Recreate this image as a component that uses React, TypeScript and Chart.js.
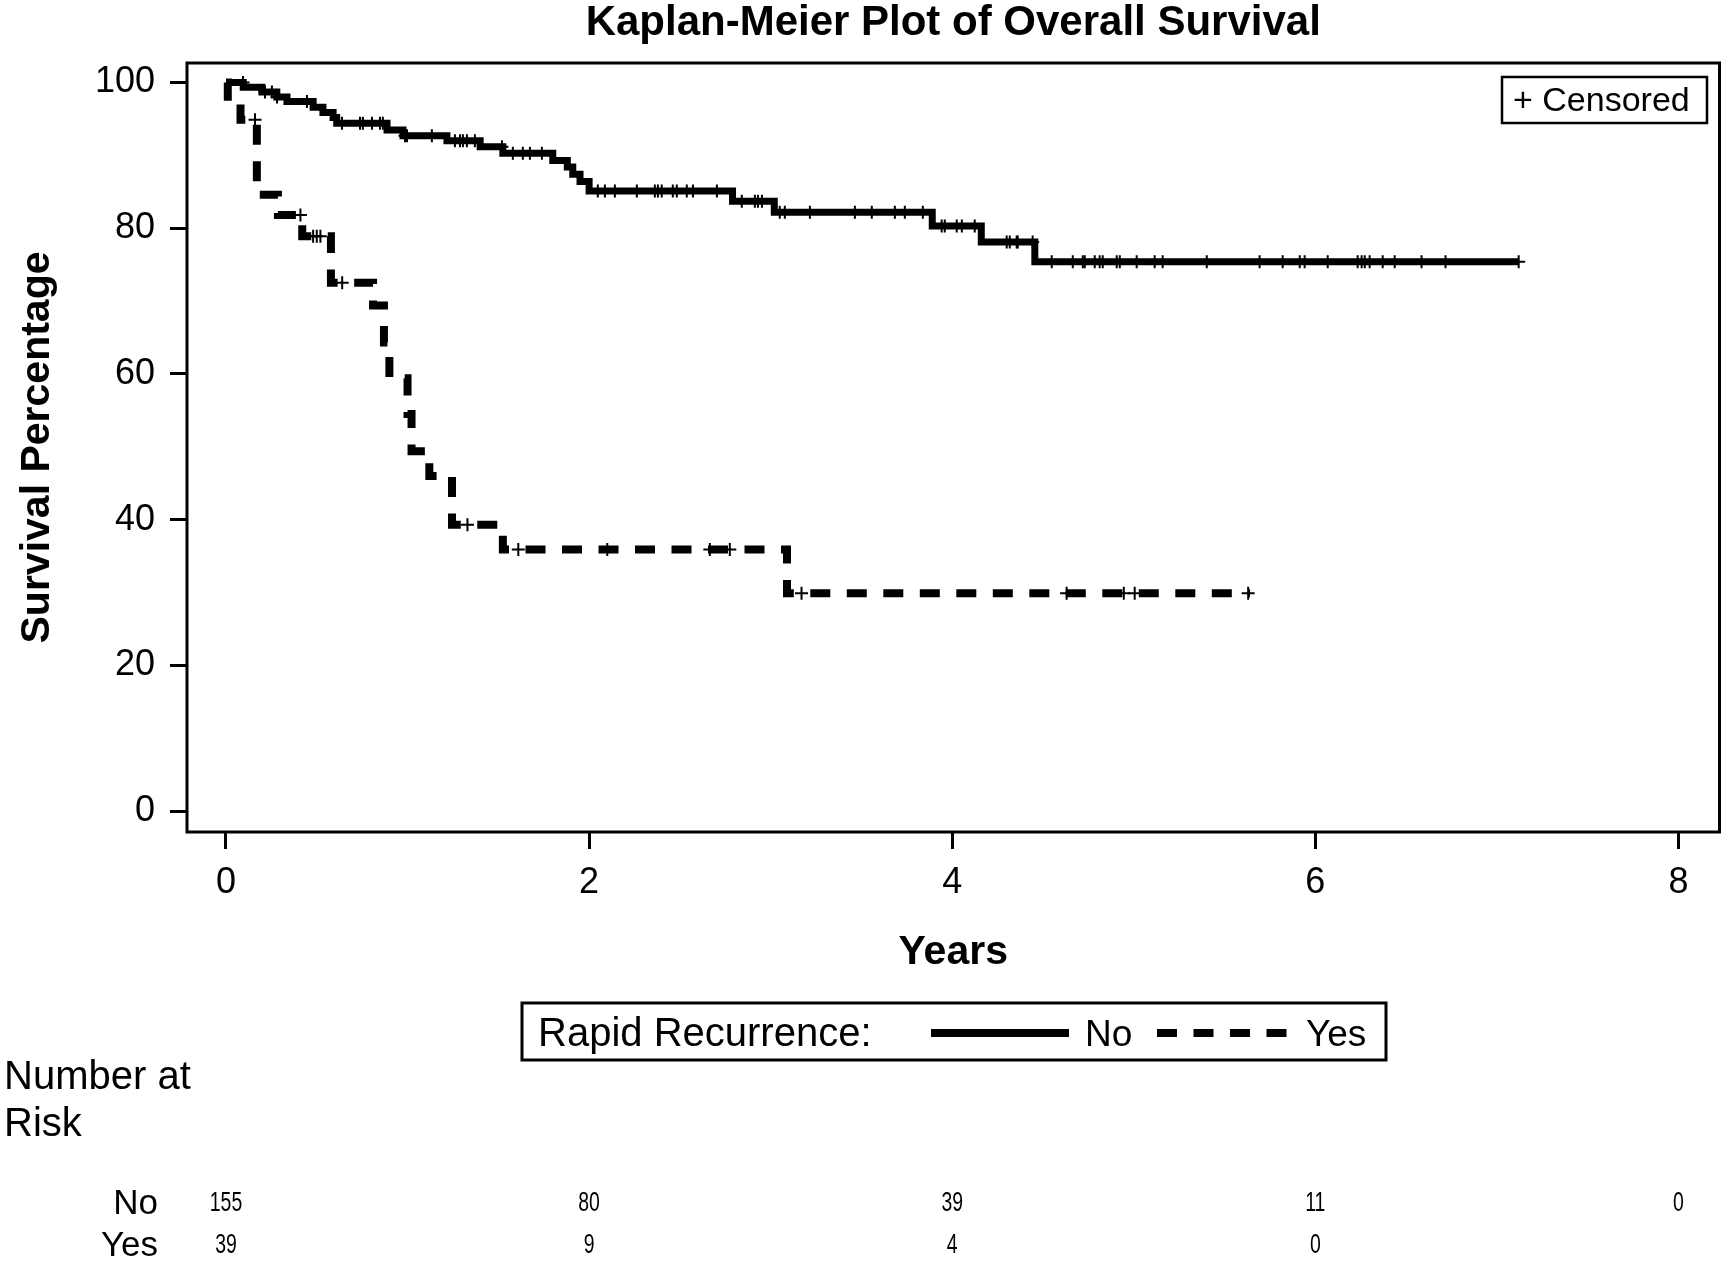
import React, { useEffect, useRef } from "react";
import { Chart, registerables } from "chart.js";

Chart.register(...registerables);

// ---- Data ----
const chartTitle = "Kaplan-Meier Plot of Overall Survival";
const xAxisTitle = "Years";
const yAxisTitle = "Survival Percentage";

// Step points (time in years, survival % after the drop at that time)
const noTimes = [0, 0.095, 0.198, 0.28, 0.336, 0.48, 0.534, 0.59, 0.61, 0.887, 0.975, 1.217, 1.40, 1.525, 1.80, 1.88, 1.91, 1.95, 2.0, 2.79, 3.02, 3.89, 4.16, 4.455, 7.12];
const noSurv = [100, 99.35, 98.7, 98.0, 97.4, 96.6, 95.9, 95.2, 94.4, 93.5, 92.7, 92.0, 91.2, 90.3, 89.3, 88.4, 87.4, 86.4, 85.1, 83.7, 82.2, 80.3, 78.1, 75.4, 75.4];

const yesTimes = [0, 0.01, 0.08, 0.17, 0.286, 0.42, 0.578, 0.81, 0.87, 0.90, 1.0, 1.022, 1.12, 1.245, 1.525, 3.09, 5.64];
const yesSurv = [100, 97.4, 94.9, 84.6, 81.8, 78.9, 72.5, 69.4, 64.3, 59.4, 54.5, 49.4, 46.0, 39.3, 35.9, 29.9, 29.9];

// Censoring times
const noCensorTimes = [0.094, 0.215, 0.253, 0.281, 0.446, 0.639, 0.738, 0.754, 0.804, 0.848, 0.864, 0.986, 0.997, 1.134, 1.261, 1.289, 1.305, 1.327, 1.371, 1.52, 1.58, 1.635, 1.674, 1.74, 2.048, 2.087, 2.142, 2.263, 2.362, 2.379, 2.40, 2.461, 2.483, 2.538, 2.572, 2.704, 2.841, 2.913, 2.93, 2.952, 3.05, 3.078, 3.216, 3.464, 3.557, 3.684, 3.739, 3.838, 3.942, 3.959, 4.025, 4.053, 4.124, 4.30, 4.317, 4.355, 4.361, 4.443, 4.548, 4.664, 4.719, 4.73, 4.785, 4.812, 4.829, 4.906, 4.923, 5.016, 5.115, 5.159, 5.402, 5.693, 5.82, 5.914, 5.941, 6.068, 6.233, 6.255, 6.272, 6.299, 6.371, 6.437, 6.585, 6.717, 7.12];
const yesCensorTimes = [0.16, 0.41, 0.48, 0.50, 0.52, 0.64, 1.33, 1.61, 2.10, 2.665, 2.775, 3.17, 4.63, 4.945, 5.005, 5.63];

const xTickValues = [0, 2, 4, 6, 8];
const yTickValues = [0, 20, 40, 60, 80, 100];

const groupNames = ["No", "Yes"];
const legendTitle = "Rapid Recurrence:";
const censorLabel = "+ Censored";
const atRiskTimes = [0, 2, 4, 6, 8];
const atRiskNo = [155, 80, 39, 11, 0];
const atRiskYes = [39, 9, 4, 0];

// ---- helpers ----
function levelAt(times: number[], surv: number[], t: number): number {
  let s = surv[0];
  for (let i = 0; i < times.length; i++) if (times[i] <= t) s = surv[i];
  return s;
}

const FONT = "'Liberation Sans', Arial, sans-serif";
const DASH = [20, 16.5];

const decorPlugin = {
  id: "decor",
  afterDraw(chart: any) {
    const { ctx, chartArea: a } = chart;
    const xs = chart.scales.x;
    ctx.save();
    ctx.fillStyle = "#000";
    ctx.strokeStyle = "#000";

    // plot frame
    ctx.lineWidth = 3;
    ctx.strokeRect(a.left, a.top, a.right - a.left, a.bottom - a.top);

    // title
    const cx = (a.left + a.right) / 2;
    ctx.font = `bold 42px ${FONT}`;
    ctx.textAlign = "center";
    ctx.textBaseline = "alphabetic";
    ctx.fillText(chartTitle, cx, 35);

    // x axis title
    ctx.font = `bold 41px ${FONT}`;
    ctx.fillText(xAxisTitle, cx, 964);

    // y axis title
    ctx.save();
    ctx.translate(49, (a.top + a.bottom) / 2);
    ctx.rotate(-Math.PI / 2);
    ctx.fillText(yAxisTitle, 0, 0);
    ctx.restore();

    // censored legend box
    ctx.lineWidth = 2.5;
    ctx.strokeRect(1502, 77, 205, 46);
    ctx.font = `34px ${FONT}`;
    ctx.textAlign = "left";
    ctx.fillText(censorLabel, 1513, 111);

    // group legend box
    ctx.lineWidth = 3;
    ctx.strokeRect(522, 1003, 864, 57);
    ctx.font = `40px ${FONT}`;
    ctx.fillText(legendTitle, 538, 1046);
    ctx.font = `37px ${FONT}`;
    ctx.lineWidth = 8;
    ctx.lineCap = "butt";
    ctx.beginPath();
    ctx.moveTo(931, 1033);
    ctx.lineTo(1069, 1033);
    ctx.stroke();
    ctx.fillText(groupNames[0], 1085, 1046);
    ctx.setLineDash(DASH);
    ctx.beginPath();
    ctx.moveTo(1157, 1033);
    ctx.lineTo(1288, 1033);
    ctx.stroke();
    ctx.setLineDash([]);
    ctx.fillText(groupNames[1], 1306, 1046);

    // number at risk
    ctx.font = `40px ${FONT}`;
    ctx.textAlign = "left";
    ctx.fillText("Number at", 4, 1089);
    ctx.fillText("Risk", 4, 1136);
    ctx.font = `35px ${FONT}`;
    ctx.textAlign = "right";
    ctx.fillText(groupNames[0], 158, 1214);
    ctx.fillText(groupNames[1], 158, 1256);

    const drawNum = (text: string, px: number, base: number) => {
      ctx.save();
      ctx.translate(px, base);
      ctx.scale(0.72, 1);
      ctx.font = `27px ${FONT}`;
      ctx.textAlign = "center";
      ctx.fillText(text, 0, 0);
      ctx.restore();
    };
    atRiskNo.forEach((v, i) => drawNum(String(v), xs.getPixelForValue(atRiskTimes[i]), 1211));
    atRiskYes.forEach((v, i) => drawNum(String(v), xs.getPixelForValue(atRiskTimes[i]), 1253));

    ctx.restore();
  },
};

export default function App() {
  const ref = useRef<HTMLCanvasElement | null>(null);

  useEffect(() => {
    if (!ref.current) return;
    const noLine = noTimes.map((t, i) => ({ x: t, y: noSurv[i] }));
    const yesLine = yesTimes.map((t, i) => ({ x: t, y: yesSurv[i] }));
    const noCens = noCensorTimes.map((t) => ({ x: t, y: levelAt(noTimes, noSurv, t) }));
    const yesCens = yesCensorTimes.map((t) => ({ x: t, y: levelAt(yesTimes, yesSurv, t) }));

    const tickFont = { family: FONT, size: 36 };
    const chart = new Chart(ref.current, {
      type: "line",
      data: {
        datasets: [
          {
            label: "No censored",
            data: noCens,
            showLine: false,
            pointStyle: "cross",
            pointRadius: 6.5,
            pointBorderWidth: 2,
            pointBorderColor: "#000",
            borderColor: "#000",
          } as any,
          {
            label: "Yes censored",
            data: yesCens,
            showLine: false,
            pointStyle: "cross",
            pointRadius: 6.5,
            pointBorderWidth: 2,
            pointBorderColor: "#000",
            borderColor: "#000",
          },
          {
            label: groupNames[0],
            data: noLine,
            stepped: "before",
            borderColor: "#000",
            borderWidth: 7,
            pointRadius: 0,
            fill: false,
            borderCapStyle: "butt",
            borderJoinStyle: "miter",
          },
          {
            label: groupNames[1],
            data: yesLine,
            stepped: "before",
            borderColor: "#000",
            borderWidth: 8,
            borderDash: DASH,
            pointRadius: 0,
            fill: false,
            borderCapStyle: "butt",
            borderJoinStyle: "miter",
          },
        ],
      },
      options: {
        responsive: false,
        animation: false,
        devicePixelRatio: 1,
        events: [],
        layout: { padding: { left: 0, top: 63, right: 8, bottom: 0 } },
        plugins: { legend: { display: false }, tooltip: { enabled: false }, title: { display: false } },
        scales: {
          x: {
            type: "linear",
            min: -0.2147,
            max: 8.226,
            afterBuildTicks: (s: any) => {
              s.ticks = xTickValues.map((v) => ({ value: v }));
            },
            afterFit: (s: any) => {
              s.height = 1264 - 832;
            },
            ticks: { font: tickFont, color: "#000", padding: 12, autoSkip: false, maxRotation: 0 },
            grid: { display: true, drawOnChartArea: false, drawTicks: true, tickLength: 17, tickWidth: 3, tickColor: "#000", color: "#000", lineWidth: 3 },
            border: { display: false },
          },
          y: {
            type: "linear",
            min: -2.88,
            max: 102.68,
            afterBuildTicks: (s: any) => {
              s.ticks = yTickValues.map((v) => ({ value: v }));
            },
            afterFit: (s: any) => {
              s.width = 187;
            },
            ticks: { font: tickFont, color: "#000", padding: 15, autoSkip: false },
            grid: { display: true, drawOnChartArea: false, drawTicks: true, tickLength: 17, tickWidth: 3, tickColor: "#000", color: "#000", lineWidth: 3 },
            border: { display: false },
          },
        },
      },
      plugins: [decorPlugin],
    } as any);
    return () => chart.destroy();
  }, []);

  return (
    <div style={{ position: "absolute", left: 0, top: 0, width: 1728, height: 1264, background: "#fff" }}>
      <canvas ref={ref} width={1728} height={1264} style={{ display: "block" }} />
    </div>
  );
}
